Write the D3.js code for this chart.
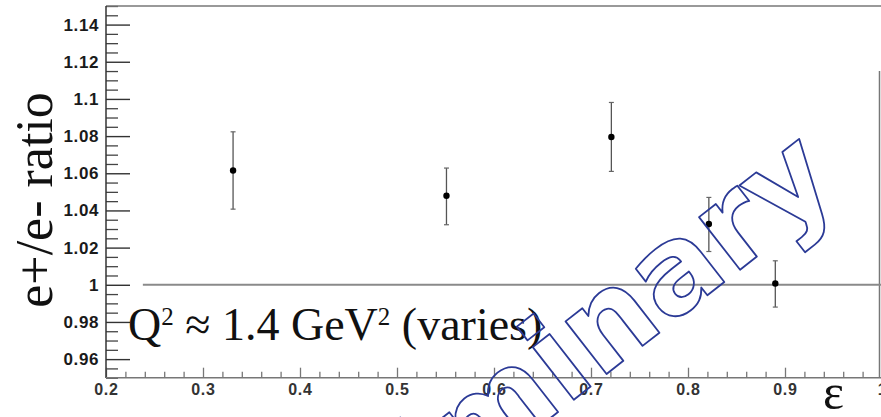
<!DOCTYPE html>
<html>
<head>
<meta charset="utf-8">
<script src="https://cdn.jsdelivr.net/npm/d3@7"></script>
<style>
  html, body { margin: 0; padding: 0; background: #fff; }
  svg { display: block; }
</style>
</head>
<body>
<div id="chart"></div>
<script>
// measured points (epsilon, e+/e- ratio) with upper / lower error bar ends
var epsilon = [0.331, 0.551, 0.721, 0.8215, 0.890];
var ratio = [1.0615, 1.0479, 1.0795, 1.0327, 1.0007];
var ratioHigh = [1.0823, 1.0628, 1.0981, 1.0470, 1.0129];
var ratioLow = [1.0407, 1.0323, 1.0610, 1.0179, 0.9880];

var xTicks = [0.2, 0.3, 0.4, 0.5, 0.6, 0.7, 0.8, 0.9, 1.0];
var xTickLabels = ["0.2", "0.3", "0.4", "0.5", "0.6", "0.7", "0.8", "0.9", "1"];
var yTicks = [0.96, 0.98, 1.0, 1.02, 1.04, 1.06, 1.08, 1.1, 1.12, 1.14];
var yTickLabels = ["0.96", "0.98", "1", "1.02", "1.04", "1.06", "1.08", "1.1", "1.12", "1.14"];
var refLine = [0.238, 1.0];

var width = 881, height = 417;

var svg = d3.select("#chart").append("svg")
    .attr("width", width)
    .attr("height", height);

var x = d3.scaleLinear().domain([0.2, 1.0]).range([106, 882]);
var y = d3.scaleLinear().domain([0.95, 1.15]).range([377.7, 6]);

// minor ticks
var xMinor = d3.range(0.2, 1.0001, 0.02).filter(function(v) { return Math.abs(v * 10 - Math.round(v * 10)) > 1e-6; });
var yMinor = d3.range(0.95, 1.1501, 0.005).filter(function(v) { return Math.abs(v * 50 - Math.round(v * 50)) > 1e-6; });

svg.append("g")
    .attr("transform", "translate(106,0)")
    .call(d3.axisLeft(y).tickValues(yMinor).tickSize(-12).tickFormat(""))
    .call(function(g) { g.select(".domain").remove(); })
    .selectAll("line").attr("stroke", "#444").attr("stroke-width", 1.3);

var yAxis = svg.append("g")
    .attr("transform", "translate(106,0)")
    .call(d3.axisLeft(y).tickValues(yTicks).tickSize(-24).tickPadding(7)
        .tickFormat(function(d, i) { return yTickLabels[i]; }));
yAxis.select(".domain").remove();
yAxis.selectAll("line").attr("stroke", "#333").attr("stroke-width", 1.4);
yAxis.selectAll("text")
    .attr("font-family", "'Liberation Sans', Arial, sans-serif")
    .attr("font-weight", "bold")
    .attr("font-size", 17)
    .attr("letter-spacing", 0.6)
    .attr("fill", "#1a1a1a");

svg.append("g")
    .attr("transform", "translate(0,377.7)")
    .call(d3.axisBottom(x).tickValues(xMinor).tickSize(-6).tickFormat(""))
    .call(function(g) { g.select(".domain").remove(); })
    .selectAll("line").attr("stroke", "#777").attr("stroke-width", 1.3);

var xAxis = svg.append("g")
    .attr("transform", "translate(0,377.7)")
    .call(d3.axisBottom(x).tickValues(xTicks).tickSize(-10).tickPadding(6)
        .tickFormat(function(d, i) { return xTickLabels[i]; }));
xAxis.select(".domain").remove();
xAxis.selectAll("line").attr("stroke", "#777").attr("stroke-width", 1.3);
xAxis.selectAll("text")
    .attr("font-family", "'Liberation Sans', Arial, sans-serif")
    .attr("font-weight", "bold")
    .attr("font-size", 16)
    .attr("letter-spacing", 0.8)
    .attr("fill", "#333");

// frame
svg.append("line").attr("x1", 106).attr("x2", width).attr("y1", 6).attr("y2", 6)
    .attr("stroke", "#777").attr("stroke-width", 1.5);
svg.append("line").attr("x1", 106).attr("x2", 106).attr("y1", 6).attr("y2", 378)
    .attr("stroke", "#333").attr("stroke-width", 1.5);
svg.append("line").attr("x1", 106).attr("x2", width).attr("y1", 377.7).attr("y2", 377.7)
    .attr("stroke", "#777").attr("stroke-width", 1.6);
svg.append("line").attr("x1", 879.5).attr("x2", 879.5).attr("y1", 71).attr("y2", 378)
    .attr("stroke", "#777").attr("stroke-width", 1.5);

// reference line at ratio = 1
svg.append("line")
    .attr("x1", x(refLine[0])).attr("x2", x(refLine[1]))
    .attr("y1", y(1)).attr("y2", y(1))
    .attr("stroke", "#8a8a8a").attr("stroke-width", 2);

// error bars and points
var pts = epsilon.map(function(e, i) {
    return {e: e, r: ratio[i], hi: ratioHigh[i], lo: ratioLow[i]};
});

var pg = svg.append("g");
pg.selectAll(".bar").data(pts).enter().append("line")
    .attr("x1", function(d) { return x(d.e); })
    .attr("x2", function(d) { return x(d.e); })
    .attr("y1", function(d) { return y(d.hi); })
    .attr("y2", function(d) { return y(d.lo); })
    .attr("stroke", "#555").attr("stroke-width", 1.3);
["hi", "lo"].forEach(function(k) {
    pg.selectAll(".cap-" + k).data(pts).enter().append("line")
        .attr("x1", function(d) { return x(d.e) - 2.5; })
        .attr("x2", function(d) { return x(d.e) + 2.5; })
        .attr("y1", function(d) { return y(d[k]); })
        .attr("y2", function(d) { return y(d[k]); })
        .attr("stroke", "#666").attr("stroke-width", 1.2);
});
pg.selectAll("circle").data(pts).enter().append("circle")
    .attr("cx", function(d) { return x(d.e); })
    .attr("cy", function(d) { return y(d.r); })
    .attr("r", 3.2)
    .attr("fill", "#000");

// y title
svg.append("text")
    .attr("transform", "translate(52,200) rotate(-90)")
    .attr("text-anchor", "middle")
    .attr("font-family", "'Liberation Serif', 'Times New Roman', serif")
    .attr("font-size", 52)
    .attr("fill", "#111")
    .text("e+/e- ratio");

// Q^2 annotation
var q = svg.append("text")
    .attr("x", 128).attr("y", 340)
    .attr("font-family", "'Liberation Serif', 'Times New Roman', serif")
    .attr("font-size", 46)
    .attr("fill", "#111");
q.append("tspan").text("Q");
q.append("tspan").attr("dy", -15).attr("font-size", 25).text("2");
q.append("tspan").attr("dy", 15).text(" \u2248 1.4 GeV");
q.append("tspan").attr("dy", -15).attr("font-size", 25).text("2");
q.append("tspan").attr("dy", 15).text(" (varies)");

// epsilon label
svg.append("text")
    .attr("x", 823).attr("y", 409)
    .attr("font-family", "'Liberation Serif', 'Times New Roman', serif")
    .attr("font-size", 50)
    .attr("fill", "#111")
    .text("\u03b5");

// watermark
svg.append("text")
    .attr("transform", "translate(842,190) rotate(-38)")
    .attr("text-anchor", "end")
    .attr("font-family", "'DejaVu Sans', sans-serif")
    .attr("font-weight", "bold")
    .attr("font-size", 122)
    .attr("fill", "none")
    .attr("stroke", "#2b3a96")
    .attr("stroke-width", 1.8)
    .attr("stroke-linejoin", "round")
    .text("Preliminary");
</script>
</body>
</html>
